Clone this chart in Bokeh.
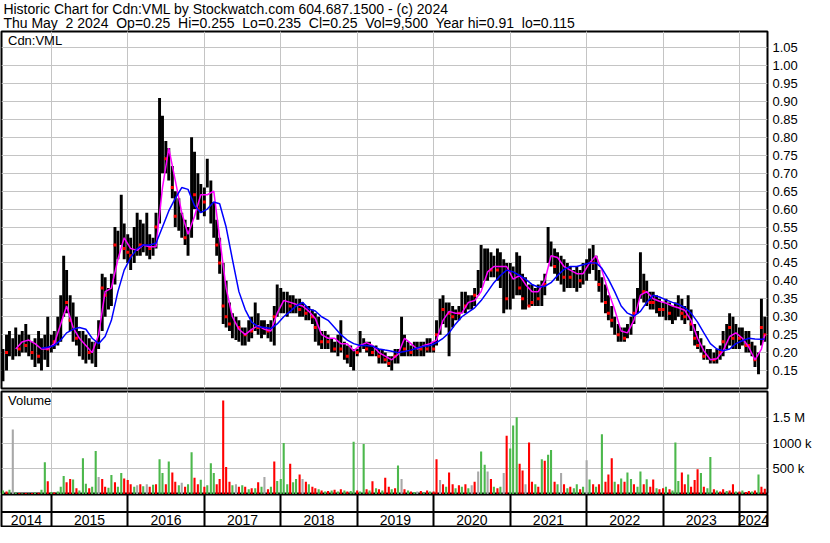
import pandas as pd
from bokeh.plotting import figure
from bokeh.layouts import column
from bokeh.models import Range1d, FixedTicker, Grid, Span, Label, ColumnDataSource, PrintfTickFormatter
from bokeh.core.properties import value
from bokeh.embed import file_html
from bokeh.resources import INLINE

NaN = float("nan")
FONT = "Liberation Sans"
NB = "\u00a0"

# ---------------- texts ----------------
TITLE_1 = "Historic Chart for Cdn:VML by Stockwatch.com 604.687.1500 - (c) 2024"
TITLE_2 = "Thu May  2 2024  Op=0.25  Hi=0.255  Lo=0.235  Cl=0.25  Vol=9,500  Year hi=0.91  lo=0.115"
SYMBOL = "Cdn:VML"
VOL_TITLE = "Volume"

price_ticks = [0.15, 0.20, 0.25, 0.30, 0.35, 0.40, 0.45, 0.50, 0.55, 0.60,
               0.65, 0.70, 0.75, 0.80, 0.85, 0.90, 0.95, 1.00, 1.05]
vol_ticks = [500000, 1000000, 1500000]
vol_tick_labels = ["500 k", "1000 k", "1.5 M"]
year_labels = ["2014", "2015", "2016", "2017", "2018", "2019", "2020", "2021", "2022", "2023", "2024"]

# ---------------- data (semi-monthly bars, 1st and 15th) ----------------
bar_dates = pd.date_range("2014-05-15", "2024-05-01", freq="SMS")

high = [
    .21, .25, .26, .24, .27, .25, .26, .28, .25, .23, .24, .26, .24, .25, .30,                              # 2014
    .25, .26, .30, .36, .47, .43, .36, .34, .30, .26, .26, .25, .24, .23, .23, .29, .42, .41, .38, .42, .55, .54, .64, .56,  # 2015
    .53, .52, .55, .59, .57, .56, .59, .53, .52, .59, .91, .86, .79, .77, .72, .65, .63, .59, .57, .55, .80, .76, .70, .67,  # 2016
    .66, .74, .68, .62, .57, .52, .45, .40, .34, .31, .30, .29, .27, .27, .29, .30, .34, .31, .29, .29, .28, .29, .33, .39,  # 2017
    .38, .37, .37, .36, .36, .35, .35, .34, .33, .33, .32, .31, .30, .26, .26, .25, .24, .23, .25, .29, .23, .22, .22, .21,  # 2018
    .21, .26, .24, .23, .23, .22, .22, .21, .21, .20, .19, .19, .21, .21, .30, .25, .23, .22, .23, .23, .23, .23, .24, .24,  # 2019
    .23, .29, .35, .36, .34, .34, .33, .32, .33, .37, .37, .36, .36, .38, .43, .50, .49, .49, .48, .47, .49, .48, .46, .45,  # 2020
    .45, .44, .48, .47, .42, .41, .39, .39, .38, .39, .40, .42, .55, .51, .49, .48, .47, .46, .45, .44, .43, .44, .43, .45,  # 2021
    .46, .49, .50, .47, .43, .41, .39, .36, .33, .30, .28, .27, .27, .28, .30, .35, .38, .48, .42, .40, .37, .37, .36, .35,  # 2022
    .34, .35, .34, .33, .34, .36, .35, .33, .36, .32, .28, .26, .24, .22, .21, .21, .20, .21, .22, .26, .28, .31, .30, .28,  # 2023
    .27, .27, .26, .26, .23, .22, .20, .35, .30,                                                             # 2024
]
low = [
    .12, .15, .19, .18, .19, .19, .20, .20, .19, .18, .16, .17, .15, .18, .16,
    .20, .21, .22, .23, .30, .31, .26, .23, .22, .19, .18, .17, .18, .17, .16, .21, .26, .30, .32, .33, .39, .46, .50, .46,
    .45, .43, .45, .47, .47, .48, .47, .46, .47, .49, .56, .70, .70, .68, .63, .55, .54, .52, .50, .47, .52, .60, .57, .59,
    .58, .66, .56, .52, .47, .42, .28, .27, .26, .24, .235, .23, .22, .22, .23, .24, .26, .25, .24, .25, .24, .23, .22, .30,
    .31, .31, .30, .31, .31, .31, .30, .30, .29, .29, .28, .23, .22, .21, .21, .21, .20, .20, .19, .20, .18, .17, .16, .15,
    .19, .20, .21, .20, .19, .19, .19, .17, .17, .17, .16, .15, .17, .17, .19, .19, .19, .19, .19, .19, .19, .19, .20, .20,
    .20, .22, .25, .28, .27, .19, .27, .29, .29, .31, .31, .32, .32, .33, .36, .38, .40, .40, .41, .41, .40, .38, .31, .32,
    .32, .35, .36, .36, .32, .32, .33, .33, .33, .33, .33, .36, .45, .44, .42, .40, .39, .37, .38, .38, .38, .37, .38, .39,
    .40, .42, .43, .40, .37, .34, .31, .29, .27, .25, .23, .23, .23, .24, .25, .28, .31, .35, .34, .33, .32, .32, .31, .30,
    .30, .29, .29, .28, .29, .30, .29, .28, .29, .26, .22, .21, .20, .18, .18, .17, .17, .17, .18, .19, .21, .22, .21, .21,
    .21, .22, .20, .20, .19, .16, .14, .22, .23,
]
close = [
    .14, .20, .22, .21, .24, .21, .23, .22, .21, .20, .21, .19, .20, .22, .21,
    .22, .23, .25, .33, .40, .34, .29, .27, .24, .22, .21, .22, .20, .19, .22, .26, .38, .36, .35, .40, .50, .49, .55, .49,
    .48, .47, .50, .52, .50, .52, .50, .49, .50, .55, .80, .76, .74, .70, .66, .58, .56, .55, .52, .50, .66, .64, .60, .62,
    .62, .69, .60, .55, .50, .45, .33, .30, .28, .27, .26, .27, .24, .25, .27, .26, .29, .27, .26, .27, .26, .25, .30, .35,
    .35, .34, .33, .33, .34, .33, .32, .32, .31, .31, .30, .27, .24, .23, .24, .23, .22, .21, .22, .21, .20, .19, .18, .20,
    .20, .23, .22, .21, .22, .20, .21, .19, .19, .18, .17, .17, .19, .20, .23, .21, .21, .20, .21, .20, .21, .22, .21, .22,
    .21, .25, .30, .32, .30, .31, .30, .31, .31, .34, .33, .34, .34, .36, .40, .44, .43, .42, .43, .42, .43, .41, .40, .35,
    .40, .39, .42, .38, .35, .33, .33, .34, .33, .35, .37, .39, .50, .46, .44, .43, .42, .41, .42, .41, .40, .41, .40, .42,
    .43, .46, .45, .42, .39, .38, .34, .31, .29, .27, .25, .25, .24, .26, .28, .31, .35, .40, .37, .35, .34, .34, .33, .32,
    .32, .31, .31, .30, .32, .33, .31, .30, .32, .28, .24, .22, .21, .19, .19, .19, .18, .19, .20, .23, .25, .27, .24, .23,
    .24, .24, .22, .22, .20, .18, .17, .27, .25,
]
# volume in thousands of shares
volume_k = [
    80, 60, 90, 1260, 40, 30, 25, 30, 20, 30, 40, 35, 90, 625, 256,
    50, 40, 60, 150, 357, 238, 300, 290, 120, 80, 702, 208, 120, 150, 845, 340, 300, 150, 130, 380, 240, 150, 417, 310,
    280, 200, 150, 180, 200, 160, 200, 150, 190, 200, 685, 417, 200, 643, 428, 250, 180, 230, 150, 200, 821, 327, 200, 285,
    150, 180, 607, 417, 200, 300, 1827, 535, 250, 180, 200, 150, 180, 150, 100, 120, 120, 240, 150, 340, 100, 150, 643, 260,
    300, 1000, 200, 595, 240, 300, 387, 300, 250, 200, 150, 120, 100, 80, 60, 70, 80, 90, 60, 100, 80, 60, 70, 1023,
    80, 60, 982, 100, 80, 256, 120, 100, 80, 327, 150, 100, 120, 565, 300, 100, 80, 60, 50, 60, 70, 40, 80, 60,
    60, 685, 280, 200, 150, 428, 200, 120, 180, 150, 200, 120, 180, 250, 446, 833, 577, 446, 300, 150, 120, 150, 417, 1142,
    892, 1339, 1500, 595, 464, 200, 1012, 250, 200, 150, 685, 655, 774, 863, 250, 200, 417, 200, 120, 150, 120, 200, 100, 150,
    667, 290, 200, 150, 200, 1172, 250, 387, 702, 250, 200, 310, 250, 428, 300, 200, 150, 446, 200, 298, 150, 290, 120, 100,
    120, 150, 100, 80, 1012, 260, 428, 200, 387, 150, 280, 488, 417, 150, 120, 726, 100, 80, 60, 100, 70, 80, 200, 60,
    60, 80, 50, 70, 60, 80, 387, 150, 110,
]
# g = up day, r = down day, n = unchanged
direction = list(
    "grgngrgrgrgrggr"
    "grgggrrgrgggrggnrrggrggr"
    "rrgnrgnrgrggrgrrgnrggrrg"
    "rgggrrrrrgnrgrgrgrgnrgrg"
    "gggrggrnrgrrgrgrgrgrgrgg"
    "rggrgrgrgrrgrgnrgrgnrgrg"
    "rrnrgrrgrgrgnrnggnrgrgnr"
    "gggrrnrrgrgrggrgnrgrggrg"
    "ngrgrgrrrgrgrggrggrgrrgr"
    "rgrgggrrgrrrgrggrgrrgrrg"
    "rgrrgrgrr"
)

# moving averages read monthly (15th of each month) plus the last day
ma_short = [
    NaN, NaN, .21, .23, .235, .225, .21, .21,
    .225, .28, .33, .27, .24, .22, .20, .25, .37, .38, .46, .52,
    .49, .485, .50, .495, .495, .66, .77, .68, .59, .53, .58, .64,
    .64, .65, .52, .38, .30, .265, .25, .265, .275, .265, .26, .31,
    .345, .34, .335, .33, .315, .295, .25, .24, .24, .225, .225, .205,
    .22, .228, .22, .20, .19, .18, .195, .24, .225, .21, .22, .225,
    .235, .29, .315, .31, .31, .34, .345, .37, .425, .44, .44, .44,
    .405, .415, .39, .37, .37, .40, .47, .465, .44, .43, .42, .42,
    .45, .47, .43, .37, .32, .26, .255, .29, .36, .37, .35, .343,
    .338, .33, .325, .318, .29, .24, .205, .18, .183, .205, .245, .255,
    .24, .215, .18, .21, .25,
]
ma_long = [
    NaN, NaN, NaN, NaN, NaN, NaN, .212, .215,
    .22, .235, .255, .265, .27, .265, .24, .225, .245, .29, .37, .43,
    .465, .49, .50, .50, .505, .55, .595, .63, .66, .655, .61, .59,
    .60, .62, .615, .55, .46, .37, .32, .285, .272, .27, .267, .28,
    .30, .315, .33, .34, .322, .316, .30, .29, .27, .25, .235, .225,
    .22, .22, .218, .21, .207, .204, .20, .203, .207, .213, .218, .22,
    .228, .24, .255, .28, .30, .313, .325, .345, .37, .395, .415, .43,
    .425, .415, .405, .39, .383, .385, .395, .415, .432, .44, .44, .445,
    .45, .45, .435, .405, .37, .33, .31, .302, .315, .34, .36, .355,
    .347, .34, .335, .325, .31, .285, .255, .225, .21, .205, .21, .225,
    .233, .24, .238, .237, .238,
]
ma_dates = list(bar_dates[::2]) + [bar_dates[-1]]

n = len(bar_dates)
assert len(high) == n and len(low) == n and len(close) == n and len(volume_k) == n and len(direction) == n
assert len(ma_short) == len(ma_dates) and len(ma_long) == len(ma_dates)

# ---------------- layout constants ----------------
W = 814
RIGHT = 41
HDR_H, PR_H, VOL_H, YR_H = 30, 360, 104, 33
GRID = "#c4c4c4"
DAY = 86400000.0

xr = Range1d(start=pd.Timestamp("2014-05-08"), end=pd.Timestamp("2024-05-14"))
bounds = [pd.Timestamp(f"{y}-01-01") for y in year_labels[1:]]
bounds_ms = [b.value / 1e6 for b in bounds]

col_map = {"g": "#4cb84c", "r": "#ff0000", "n": "#a8a8a8"}
src = ColumnDataSource(dict(
    date=list(bar_dates), high=high, low=low, close=close,
    vol=[v * 1000 for v in volume_k], color=[col_map[d] for d in direction]))
down_idx = [i for i, d in enumerate(direction) if d == "r"]
src_down = ColumnDataSource(dict(date=[bar_dates[i] for i in down_idx], close=[close[i] for i in down_idx]))
src_ma = ColumnDataSource(dict(date=ma_dates, s=ma_short, l=ma_long))


def style_right_axis(p):
    ax = p.yaxis[0]
    ax.axis_line_color = None
    ax.major_tick_line_color = None
    ax.minor_tick_line_color = None
    ax.major_tick_in = 0
    ax.major_tick_out = 0
    ax.major_label_standoff = 5
    ax.major_label_text_font = FONT
    ax.major_label_text_font_size = "13px"
    ax.major_label_text_color = "black"


def add_year_grid(p, color, width):
    g = Grid(dimension=0, ticker=FixedTicker(ticks=bounds_ms), grid_line_color=color, grid_line_width=width)
    p.add_layout(g)


def keep_spaces(s):
    # keep the double spaces of the original header visible in SVG text
    return s.replace("  ", NB + " ")


# ---------------- header ----------------
hdr = figure(width=W, height=HDR_H, x_range=Range1d(0, W), y_range=Range1d(HDR_H, 0),
             output_backend="svg", toolbar_location=None, x_axis_location=None, y_axis_location=None,
             min_border=0, outline_line_color=None)
hdr.grid.visible = False
hdr.text(x=[2, 2], y=[8, 22], text=[keep_spaces(TITLE_1), keep_spaces(TITLE_2)], text_font=value(FONT),
         text_font_size="14px", text_color="black", text_baseline="middle", text_align="left")

# ---------------- price panel ----------------
pf = figure(width=W, height=PR_H, x_range=xr, y_range=Range1d(0.10, 1.095),
            output_backend="svg", toolbar_location=None, x_axis_location=None, y_axis_location="right",
            min_border_left=1, min_border_right=RIGHT, min_border_top=1, min_border_bottom=2,
            outline_line_color="black", outline_line_width=2)
pf.yaxis.ticker = FixedTicker(ticks=price_ticks)
pf.yaxis.formatter = PrintfTickFormatter(format="%.2f")
style_right_axis(pf)
pf.ygrid.grid_line_color = GRID
add_year_grid(pf, GRID, 1)

pf.vbar(x="date", width=14 * DAY, top="high", bottom="low", source=src, fill_color="black", line_color=None)
pf.scatter(x="date", y="close", source=src_down, marker="square", size=3, fill_color="#ff0000", line_color=None)
pf.line(x="date", y="s", source=src_ma, line_color="#ff00ff", line_width=1.5)
pf.line(x="date", y="l", source=src_ma, line_color="#0000ff", line_width=1.5)
pf.add_layout(Label(x=pd.Timestamp("2014-06-08").value / 1e6, y=1.07, text=SYMBOL, text_font=FONT,
                    text_font_size="13px", text_baseline="middle", text_color="black"))

# ---------------- volume panel ----------------
vf = figure(width=W, height=VOL_H, x_range=xr, y_range=Range1d(0, 2.0e6),
            output_backend="svg", toolbar_location=None, x_axis_location=None, y_axis_location="right",
            min_border_left=1, min_border_right=RIGHT, min_border_top=1, min_border_bottom=0,
            outline_line_color="black", outline_line_width=2)
vf.yaxis.ticker = FixedTicker(ticks=vol_ticks)
vf.yaxis.major_label_overrides = {t: s for t, s in zip(vol_ticks, vol_tick_labels)}
style_right_axis(vf)
vf.ygrid.grid_line_color = GRID
add_year_grid(vf, GRID, 1)
vf.vbar(x="date", width=10 * DAY, top="vol", bottom=0, source=src, fill_color="color", line_color=None)
vf.add_layout(Label(x=pd.Timestamp("2014-06-08").value / 1e6, y=1.83e6, text=VOL_TITLE, text_font=FONT,
                    text_font_size="13px", text_baseline="middle", text_color="black"))

# ---------------- year band ----------------
yf = figure(width=W, height=YR_H, x_range=xr, y_range=Range1d(0, 1),
            output_backend="svg", toolbar_location=None, x_axis_location=None, y_axis_location=None,
            min_border_left=1, min_border_right=RIGHT, min_border_top=0, min_border_bottom=0,
            outline_line_color="black", outline_line_width=2)
yf.grid.visible = False
add_year_grid(yf, "black", 2)
yf.add_layout(Span(location=0.47, dimension="width", line_color="black", line_width=2))
edges = [xr.start.value / 1e6] + bounds_ms + [xr.end.value / 1e6]
mids = [(a + b) / 2 for a, b in zip(edges[:-1], edges[1:])]
yf.text(x=mids, y=[0.24] * len(mids), text=year_labels, text_font=value(FONT), text_font_size="14px",
        text_color="black", text_align="center", text_baseline="middle")

layout = column(hdr, pf, vf, yf, spacing=0)
open("out.html", "w").write(file_html(layout, INLINE))
